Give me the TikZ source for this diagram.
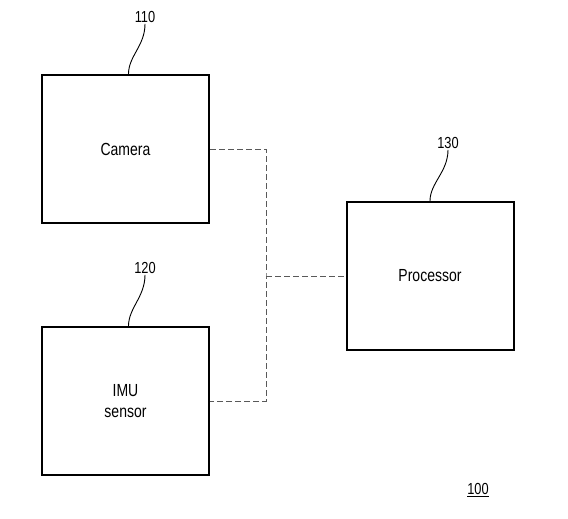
\documentclass[tikz,border=0pt]{standalone}
\usepackage{fontspec}
\setmainfont{Liberation Sans}[FakeStretch=0.8]
\usetikzlibrary{positioning}

\begin{document}
\begin{tikzpicture}[x=1pt, y=-1pt,
    block/.style={draw, line width=2pt, minimum width=167pt, minimum height=148pt,
        align=center, font=\fontsize{17.5}{21}\selectfont},
    refnum/.style={font=\fontsize{16}{19}\selectfont, inner sep=1pt},
    dashline/.style={draw=gray!70!black, dash pattern=on 6pt off 3pt, line width=0.9pt},
    leader/.style={line width=0.9pt}]
        % Fix the size of the picture
        \useasboundingbox (0,0) rectangle (568,519);

        % Draw the blocks
        \node[block] (camera) at (125.5,149) {Camera};
        \node[block] (imu) at (125.5,401) {IMU\\sensor};
        \node[block] (processor) at (430,276) {Processor};

        % Add the reference numbers
        \node[refnum] (n110) at (145,17) {110};
        \node[refnum] (n120) at (145,268) {120};
        \node[refnum] (n130) at (448,143) {130};
        \node[refnum] (n100) at (478,490) {\underline{100}};

        % Leader lines from the blocks to their numbers
        \draw[leader] ([xshift=3pt]camera.north) .. controls +(0,-18) and +(0,22) .. (n110.south);
        \draw[leader] ([xshift=3pt]imu.north) .. controls +(0,-18) and +(0,22) .. (n120.south);
        \draw[leader] ([xshift=0pt]processor.north) .. controls +(0,-18) and +(0,22) .. (n130.south);

        % Dashed connections
        \coordinate (junction) at (266,276);
        \draw[dashline] (camera.east) -| (junction) |- (imu.east);
        \draw[dashline] (junction) -- (processor.west);
    \end{tikzpicture}
\end{document}
